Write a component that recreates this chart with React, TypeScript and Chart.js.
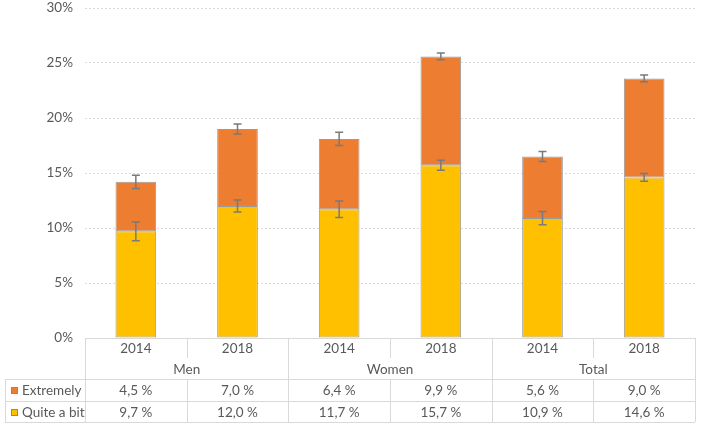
import React, { useEffect, useRef } from "react";
import { Chart, registerables } from "chart.js";

Chart.register(...registerables);

const groups = ["Men", "Women", "Total"];
const years = ["2014", "2018", "2014", "2018", "2014", "2018"];
const quiteABit = [9.7, 12.0, 11.7, 15.7, 10.9, 14.6];
const extremely = [4.5, 7.0, 6.4, 9.9, 5.6, 9.0];
const quiteErr = [0.85, 0.55, 0.75, 0.45, 0.6, 0.35];
const extremeErr = [0.6, 0.45, 0.6, 0.3, 0.45, 0.3];
const seriesNames = ["Extremely", "Quite a bit"];
const yMax = 30;
const yStep = 5;

const ORANGE = "#ED7D31";
const YELLOW = "#FFC000";
const BORDER = "#9a9a9a";
const TEXT = "#595959";
const LINE = "#d9d9d9";
const FONT = "Lato, 'Open Sans', sans-serif";

const fmt = (v: number) => v.toFixed(1).replace(".", ",") + " %";

const errorBarPlugin = {
  id: "errorBars",
  afterDatasetsDraw(chart: any) {
    const ctx = chart.ctx;
    const y = chart.scales.y;
    const meta = chart.getDatasetMeta(0);
    ctx.save();
    ctx.strokeStyle = "#7a7a7a";
    ctx.lineWidth = 1.5;
    const drawErr = (x: number, v: number, e: number) => {
      const y1 = y.getPixelForValue(v - e);
      const y2 = y.getPixelForValue(v + e);
      ctx.beginPath();
      ctx.moveTo(x, y1);
      ctx.lineTo(x, y2);
      ctx.moveTo(x - 4, y1);
      ctx.lineTo(x + 4, y1);
      ctx.moveTo(x - 4, y2);
      ctx.lineTo(x + 4, y2);
      ctx.stroke();
    };
    meta.data.forEach((bar: any, i: number) => {
      drawErr(bar.x, quiteABit[i], quiteErr[i]);
      drawErr(bar.x, quiteABit[i] + extremely[i], extremeErr[i]);
    });
    ctx.restore();
  },
};

const tablePlugin = {
  id: "dataTable",
  afterDraw(chart: any) {
    const ctx = chart.ctx;
    const area = chart.chartArea;
    const meta = chart.getDatasetMeta(0);
    const xs: number[] = meta.data.map((b: any) => b.x);
    const half = (xs[1] - xs[0]) / 2;
    const bounds = [xs[0] - half, ...xs.map((x) => x + half)];
    const r0 = area.bottom;
    const r1 = r0 + 20;
    const r2 = r0 + 41;
    const r3 = r0 + 63;
    const r4 = r0 + 84;
    const leftX = 5;
    const right = bounds[bounds.length - 1];
    const px = (v: number) => Math.round(v) + 0.5;

    ctx.save();
    ctx.strokeStyle = LINE;
    ctx.lineWidth = 1;
    ctx.beginPath();
    ctx.moveTo(bounds[0], px(r0));
    ctx.lineTo(right, px(r0));
    [r2, r3, r4].forEach((r) => {
      ctx.moveTo(leftX, px(r));
      ctx.lineTo(right, px(r));
    });
    bounds.forEach((b) => {
      ctx.moveTo(px(b), r0);
      ctx.lineTo(px(b), r1);
      ctx.moveTo(px(b), r2);
      ctx.lineTo(px(b), r4);
    });
    bounds.forEach((b, i) => {
      if (i % 2 === 0) {
        ctx.moveTo(px(b), r1);
        ctx.lineTo(px(b), r2);
      }
    });
    ctx.moveTo(px(leftX), r2);
    ctx.lineTo(px(leftX), r4);
    ctx.stroke();

    ctx.fillStyle = TEXT;
    ctx.font = `13.5px ${FONT}`;
    ctx.textAlign = "center";
    ctx.textBaseline = "middle";
    xs.forEach((x, i) => {
      ctx.fillText(years[i], x, (r0 + r1) / 2 + 1);
      ctx.fillText(fmt(extremely[i]), x, (r2 + r3) / 2 + 1);
      ctx.fillText(fmt(quiteABit[i]), x, (r3 + r4) / 2 + 1);
    });
    groups.forEach((g, gi) => {
      const cx = (bounds[gi * 2] + bounds[gi * 2 + 2]) / 2;
      ctx.fillText(g, cx, (r1 + r2) / 2 + 1);
    });

    const rows = [
      { name: seriesNames[0], color: ORANGE, y: (r2 + r3) / 2 },
      { name: seriesNames[1], color: YELLOW, y: (r3 + r4) / 2 },
    ];
    ctx.textAlign = "left";
    rows.forEach((r) => {
      ctx.fillStyle = r.color;
      ctx.fillRect(11, Math.round(r.y) - 3, 7, 7);
      ctx.strokeStyle = "#8a8a8a";
      ctx.strokeRect(11.5, Math.round(r.y) - 2.5, 6, 6);
      ctx.fillStyle = TEXT;
      ctx.fillText(r.name, 22, r.y + 1);
    });
    ctx.restore();
  },
};

export default function App() {
  const ref = useRef<HTMLCanvasElement | null>(null);

  useEffect(() => {
    if (!ref.current) return;
    const chart = new Chart(ref.current, {
      type: "bar",
      data: {
        labels: years,
        datasets: [
          {
            label: seriesNames[1],
            data: quiteABit,
            backgroundColor: YELLOW,
            borderColor: BORDER,
            borderWidth: 1,
            borderSkipped: false,
            barPercentage: 0.4,
            categoryPercentage: 1,
          },
          {
            label: seriesNames[0],
            data: extremely,
            backgroundColor: ORANGE,
            borderColor: BORDER,
            borderWidth: 1,
            borderSkipped: false,
            barPercentage: 0.4,
            categoryPercentage: 1,
          },
        ],
      },
      options: {
        responsive: false,
        animation: false,
        layout: { padding: { left: 0, right: 6, top: 8, bottom: 92 } },
        plugins: {
          legend: { display: false },
          tooltip: { enabled: false },
        },
        scales: {
          x: {
            stacked: true,
            ticks: { display: false },
            grid: { display: false },
            border: { display: false },
            afterFit: (s: any) => {
              s.height = 0;
              s.paddingLeft = 0;
              s.paddingRight = 0;
            },
          },
          y: {
            stacked: true,
            min: 0,
            max: yMax,
            ticks: {
              stepSize: yStep,
              padding: 12,
              color: TEXT,
              font: { family: FONT, size: 13.5 },
              callback: (v: any) => v + "%",
            },
            grid: {
              color: (c: any) => (c.tick && c.tick.value === 0 ? "rgba(0,0,0,0)" : LINE),
              lineWidth: 1,
              drawTicks: false,
            },
            border: { display: false, dash: [2, 2] },
            afterFit: (s: any) => {
              s.width = 85;
              s.paddingTop = 0;
              s.paddingBottom = 0;
            },
          },
        },
      },
      plugins: [errorBarPlugin, tablePlugin],
    } as any);
    return () => chart.destroy();
  }, []);

  return (
    <div style={{ position: "absolute", left: 0, top: 0, width: 701, height: 430, background: "#fff" }}>
      <canvas ref={ref} width={701} height={430} />
    </div>
  );
}
